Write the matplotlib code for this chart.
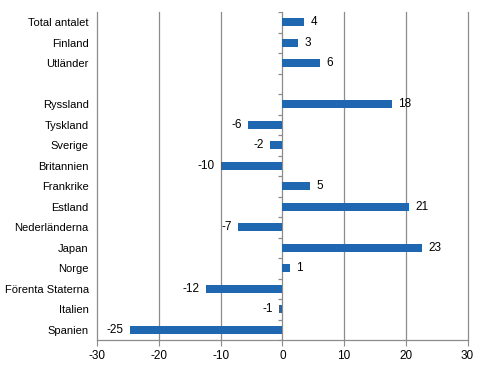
import numpy as np
import matplotlib.pyplot as plt

plt.rcParams['font.family'] = ['Liberation Sans', 'DejaVu Sans']

# Data (top to bottom), blank row separates totals from countries
categories = ['Total antalet', 'Finland', 'Utländer', '',
              'Ryssland', 'Tyskland', 'Sverige', 'Britannien', 'Frankrike',
              'Estland', 'Nederländerna', 'Japan', 'Norge',
              'Förenta Staterna', 'Italien', 'Spanien']
values = [3.5, 2.5, 6.1, np.nan,
          17.8, -5.6, -2.0, -10.0, 4.5,
          20.5, -7.2, 22.6, 1.25,
          -12.4, -0.55, -24.7]
value_labels = ['4', '3', '6', '',
                '18', '-6', '-2', '-10', '5',
                '21', '-7', '23', '1',
                '-12', '-1', '-25']
x_ticks = [-30, -20, -10, 0, 10, 20, 30]

bar_color = '#1f67b0'
grid_color = '#8c8c8c'

fig = plt.figure(figsize=(4.86, 3.65), dpi=100)
ax = fig.add_axes([0.200, 0.0685, 0.762, 0.8985])

y = np.arange(len(categories))
ax.barh(y, values, height=0.38, color=bar_color, zorder=3)

# value labels beside the bar ends
for yi, v, lab in zip(y, values, value_labels):
    if np.isnan(v):
        continue
    if v >= 0:
        ax.annotate(lab, (v, yi), xytext=(4.5, 0), textcoords='offset points',
                    ha='left', va='center', fontsize=8.5)
    else:
        ax.annotate(lab, (v, yi), xytext=(-4.5, 0), textcoords='offset points',
                    ha='right', va='center', fontsize=8.5)

ax.set_xlim(-30, 30)
ax.set_ylim(len(categories) - 0.5, -0.5)
ax.set_xticks(x_ticks)
ax.set_xticklabels([str(t) for t in x_ticks], fontsize=8.5)
ax.set_yticks(y)
ax.set_yticklabels(categories, fontsize=8)
ax.tick_params(axis='y', length=0, pad=6)
ax.tick_params(axis='x', length=4, color=grid_color, pad=3)

# vertical gridlines, including the zero line
ax.grid(axis='x', color=grid_color, linewidth=0.9, zorder=0)
ax.set_axisbelow(True)
for gl in ax.get_xgridlines():
    gl.set_clip_on(False)

for side in ['top', 'right', 'left']:
    ax.spines[side].set_visible(False)
ax.spines['bottom'].set_color(grid_color)
ax.spines['bottom'].set_linewidth(0.9)

# small tick marks on the zero axis between categories
bounds = np.arange(len(categories) + 1) - 0.5
ax.hlines(bounds, -0.65, 0, color=grid_color, linewidth=0.9, zorder=2)

fig.savefig('out.png', dpi=100)
